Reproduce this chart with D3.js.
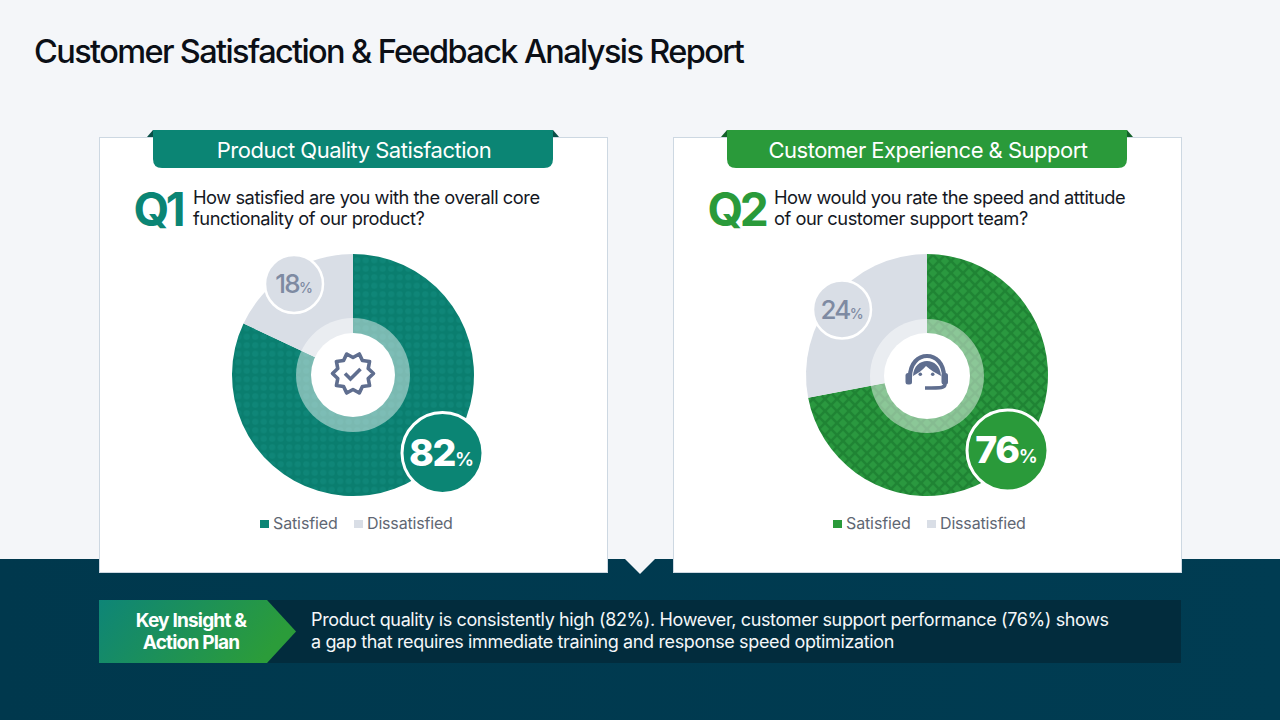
<!DOCTYPE html>
<html><head><meta charset="utf-8">
<script src="https://cdn.jsdelivr.net/npm/d3@7"></script>
<style>
html,body{margin:0;padding:0;background:#f4f6f9;overflow:hidden}
svg{display:block}
text{font-family:Inter,"Noto Sans",sans-serif}
</style></head><body><div id="c"></div>
<script>
const reportTitle = "Customer Satisfaction & Feedback Analysis Report";
const cardTitles = ["Product Quality Satisfaction","Customer Experience & Support"];
const questionIds = ["Q1","Q2"];
const questionLines = [
  ["How satisfied are you with the overall core","functionality of our product?"],
  ["How would you rate the speed and attitude","of our customer support team?"]
];
const categories = ["Satisfied","Dissatisfied"];
const satisfiedLabels = [82,76];
const dissatisfiedLabels = [18,24];
// slice sizes as drawn in the picture (the second donut's wedge is not the same as its label)
const satisfiedSlices = [82,72];
const dissatisfiedSlices = [18,28];
const accentColors = ["#0b8574","#2a9a3a"];
const insightHead = ["Key Insight &","Action Plan"];
const insightBody = [
  "Product quality is consistently high (82%). However, customer support performance (76%) shows",
  "a gap that requires immediate training and response speed optimization"
];

const W=1280,H=720;
const svg=d3.select("#c").append("svg").attr("width",W).attr("height",H);
const defs=svg.append("defs");

// patterns
const p1=defs.append("pattern").attr("id","pat0").attr("width",8.5).attr("height",8.5).attr("patternUnits","userSpaceOnUse");
p1.append("rect").attr("width",8.5).attr("height",8.5).attr("fill","#0a7e6f");
p1.append("circle").attr("cx",4.25).attr("cy",4.25).attr("r",3.1).attr("fill","#0f8678");
const p2=defs.append("pattern").attr("id","pat1").attr("width",12).attr("height",12).attr("patternUnits","userSpaceOnUse");
p2.append("rect").attr("width",12).attr("height",12).attr("fill","#1f8434");
[[0,0],[12,0],[0,12],[12,12],[6,6]].forEach(d=>p2.append("path").attr("d",`M${d[0]-4.2},${d[1]}L${d[0]},${d[1]-4.2}L${d[0]+4.2},${d[1]}L${d[0]},${d[1]+4.2}Z`).attr("fill","#2a983f"));

// gradients
const g1=defs.append("linearGradient").attr("id","band").attr("x1",0).attr("x2",1).attr("y1",0).attr("y2",0);
g1.append("stop").attr("offset",0).attr("stop-color","#00384d");
g1.append("stop").attr("offset",1).attr("stop-color","#003c52");
const g2=defs.append("linearGradient").attr("id","arrowG").attr("x1",0).attr("x2",1).attr("y1",0).attr("y2",0.25);
g2.append("stop").attr("offset",0).attr("stop-color","#0e8577");
g2.append("stop").attr("offset",1).attr("stop-color","#2b9c3a");

svg.append("rect").attr("width",W).attr("height",H).attr("fill","#f4f6f9");
svg.append("text").attr("x",34).attr("y",62.5).attr("font-size",32.5).attr("font-weight",500).attr("letter-spacing",-1.62).attr("fill","#0b0f16").text(reportTitle);

// bottom band
svg.append("rect").attr("y",559).attr("width",W).attr("height",161).attr("fill","url(#band)");
svg.append("path").attr("d","M625,559L655,559L640,574Z").attr("fill","#f4f6f9");

const layout=[
 {x:99,cx:353,cy:375,wr:42,rr:57,rcy:375,bx:442.5,by:453,sx:294,sy:284,qx:133.5,tx:193,legX:260,legGap:94,rib:153},
 {x:673,cx:927,cy:375,wr:43,rr:57,rcy:376,bx:1007.5,by:450.5,sx:842,sy:309.5,qx:707.5,tx:774,legX:833,legGap:94,rib:727}
];
const pie=d3.pie().sort(null).value(d=>d);
const arc=d3.arc().innerRadius(0).outerRadius(121);

layout.forEach((L,i)=>{
  const g=svg.append("g");
  g.append("rect").attr("x",L.x+.5).attr("y",137.5).attr("width",508).attr("height",435).attr("fill","#fff").attr("stroke","#cdd8e2").attr("stroke-width",1);
  const col=accentColors[i];
  g.append("path").attr("d",`M${L.rib-6},137L${L.rib},130L${L.rib},137Z`).attr("fill",i?"#14612a":"#0a4f47");
  g.append("path").attr("d",`M${L.rib+406},137L${L.rib+400},130L${L.rib+400},137Z`).attr("fill",i?"#14612a":"#0a4f47");
  const rx=L.rib,ry=130,rw=400,rh=38,r=9;
  g.append("path").attr("d",`M${rx},${ry}H${rx+rw}V${ry+rh-r}Q${rx+rw},${ry+rh} ${rx+rw-r},${ry+rh}H${rx+r}Q${rx},${ry+rh} ${rx},${ry+rh-r}Z`).attr("fill",col);
  g.append("text").attr("x",rx+rw/2+1).attr("y",158).attr("text-anchor","middle").attr("font-size",22).attr("fill","#fff").attr("letter-spacing",-0.51).text(cardTitles[i]);
  g.append("text").attr("x",L.qx).attr("y",226).attr("font-size",46).attr("font-weight",700).attr("letter-spacing",-3.4).attr("fill",col).text(questionIds[i]);
  questionLines[i].forEach((t,k)=>g.append("text").attr("x",L.tx).attr("y",204+k*21).attr("font-size",18.3).attr("letter-spacing",-0.47).attr("fill","#14181f").text(t));
  const data=pie([satisfiedSlices[i],dissatisfiedSlices[i]]);
  const dg=g.append("g").attr("transform",`translate(${L.cx},${L.cy})`);
  dg.selectAll("path.s").data(data).join("path").attr("class","s").attr("d",arc).attr("fill",(d,k)=>k?"#d9dee6":`url(#pat${i})`);
  g.append("circle").attr("cx",L.cx).attr("cy",L.rcy).attr("r",L.rr).attr("fill","#fff").attr("opacity",.46);
  g.append("circle").attr("cx",L.cx).attr("cy",L.rcy).attr("r",L.wr).attr("fill","#fff");
  g.append("circle").attr("cx",L.sx).attr("cy",L.sy).attr("r",29).attr("fill","#d9dee6").attr("stroke","#fff").attr("stroke-width",2.5);
  const st=g.append("text").attr("x",L.sx).attr("y",L.sy+9).attr("text-anchor","middle").attr("fill","#7e8aa2").attr("font-size",26).attr("font-weight",500).attr("letter-spacing",-1.7);
  st.append("tspan").text(dissatisfiedLabels[i]);
  st.append("tspan").attr("font-size",14).attr("letter-spacing",0).text("%");
  g.append("circle").attr("cx",L.bx).attr("cy",L.by).attr("r",40.5).attr("fill",col).attr("stroke","#fff").attr("stroke-width",3);
  const bt=g.append("text").attr("x",L.bx-1).attr("y",L.by+12.5).attr("text-anchor","middle").attr("fill","#fff").attr("font-size",37.5).attr("font-weight",800).attr("letter-spacing",-1.4);
  bt.append("tspan").text(satisfiedLabels[i]);
  bt.append("tspan").attr("font-size",19).attr("font-weight",600).attr("letter-spacing",0).text("%");
  const lg=g.append("g");
  lg.append("rect").attr("x",L.legX).attr("y",520).attr("width",9).attr("height",8).attr("fill",col);
  lg.append("text").attr("x",L.legX+13).attr("y",529).attr("font-size",16).attr("letter-spacing",-0.12).attr("fill","#5f6773").text(categories[0]);
  lg.append("rect").attr("x",L.legX+L.legGap).attr("y",520).attr("width",9).attr("height",8).attr("fill","#d9dee6");
  lg.append("text").attr("x",L.legX+L.legGap+13).attr("y",529).attr("font-size",16).attr("letter-spacing",-0.17).attr("fill","#5f6773").text(categories[1]);
});

// icon 1: scalloped badge with check
const ic="#5f6e8f";
const starPts=d3.range(0,20).map(k=>[(k+1)/20*2*Math.PI,(k%2)?16:20.5]);
svg.append("path").attr("transform","translate(353,373.5)")
  .attr("d",d3.lineRadial().curve(d3.curveLinearClosed)(starPts))
  .attr("fill","none").attr("stroke",ic).attr("stroke-width",3.6).attr("stroke-linejoin","round");
svg.append("path").attr("transform","translate(353,373.5)").attr("d","M-8,0L-2.5,5.5L7.5,-4.5").attr("fill","none").attr("stroke",ic).attr("stroke-width",3.6);

// icon 2: headset
const h=svg.append("g").attr("transform","translate(927,375)").attr("fill","none").attr("stroke",ic);
h.append("path").attr("d","M-17,2C-17,-26 17,-26 17,2").attr("stroke-width",4.2);
h.append("path").attr("d","M-14,1C-13,-19 13,-19 14,1C9,-2 3,-5 -1,-9C-4,-5 -9,-2 -14,1Z").attr("fill",ic).attr("stroke","none");
h.append("rect").attr("x",-21.5).attr("y",-2).attr("width",6.5).attr("height",11.5).attr("rx",2.5).attr("fill",ic).attr("stroke","none");
h.append("rect").attr("x",14.5).attr("y",-2).attr("width",6.5).attr("height",11.5).attr("rx",2.5).attr("fill",ic).attr("stroke","none");
h.append("circle").attr("cx",-6.7).attr("cy",-0.7).attr("r",1.8).attr("fill",ic).attr("stroke","none");
h.append("circle").attr("cx",5.7).attr("cy",-0.7).attr("r",1.8).attr("fill",ic).attr("stroke","none");
h.append("path").attr("d","M18,9C18,13 15,13 -2,13").attr("stroke-width",3.6);

// insight bar
svg.append("rect").attr("x",99).attr("y",600).attr("width",1082).attr("height",63).attr("fill","#022c3d");
svg.append("path").attr("d","M99,600H267L296,631.5L267,663H99Z").attr("fill","url(#arrowG)");
insightHead.forEach((t,k)=>svg.append("text").attr("x",191).attr("y",627+k*22).attr("text-anchor","middle").attr("font-size",19).attr("font-weight",700).attr("letter-spacing",-0.8).attr("fill","#fff").text(t));
insightBody.forEach((t,k)=>svg.append("text").attr("x",311).attr("y",626+k*22).attr("font-size",18).attr("letter-spacing",-0.37).attr("fill","#f4f7f9").text(t));
</script></body></html>
